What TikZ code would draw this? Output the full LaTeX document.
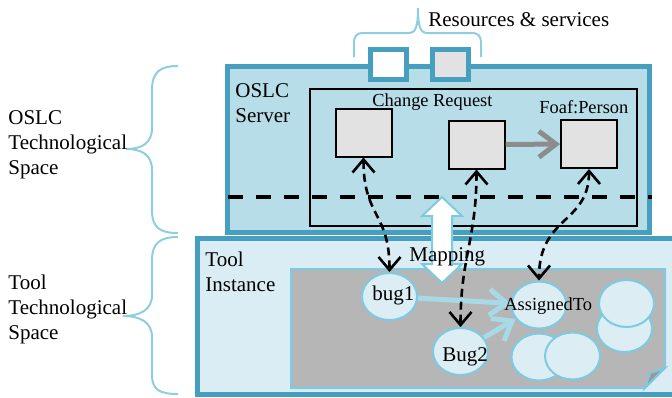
\documentclass[tikz,border=0pt]{standalone}
\usepackage{fontspec}
\setmainfont{Liberation Serif}
\usetikzlibrary{arrows.meta,shapes.geometric}
\definecolor{frameblue}{HTML}{469FBF}
\definecolor{srvfill}{HTML}{B7DEE8}
\definecolor{toolfill}{HTML}{DBEDF4}
\definecolor{braceblue}{HTML}{8FCDE0}
\definecolor{blobline}{HTML}{7DCAE2}
\definecolor{blobfill}{HTML}{DCEEF4}
\definecolor{areagray}{HTML}{B6B6B6}
\definecolor{foldgray}{HTML}{9A9A9A}
\definecolor{resgray}{HTML}{E2E2E2}
\definecolor{linkblue}{HTML}{A7D9E7}
\definecolor{relgray}{HTML}{8C8C8C}

\begin{document}
\begin{tikzpicture}[x=0.5pt,y=-0.5pt, every node/.style={font=\rmfamily\fontsize{10.5}{12.5}\selectfont, inner sep=0pt},
    txt/.style={anchor=north west, align=left},
    small/.style={txt, font=\rmfamily\fontsize{9.2}{11}\selectfont},
    frame/.style={draw=frameblue, line width=2.5pt},
    port/.style={draw=frameblue, line width=2.5pt, minimum width=18pt, minimum height=15pt},
    res/.style={draw, line width=1pt, fill=resgray, minimum width=28pt, minimum height=24pt},
    blob/.style={ellipse, draw=blobline, line width=1pt, fill=blobfill, minimum width=27.5pt, minimum height=23.5pt},
    curly/.style={draw=braceblue, line width=1pt},
    link/.style={dash pattern=on 4pt off 2.5pt, line width=1.3pt, {Straight Barb[length=6.5pt,width=11pt]}-{Straight Barb[length=6.5pt,width=11pt]}},
    flow/.style={line width=2.5pt, -{Straight Barb[length=8.5pt,width=13pt]}}]
    \clip (0,0) rectangle (672,397);
    % braces
    \draw[curly] (178,66) .. controls (160,66) and (152,72) .. (152,90) -- (152,128) .. controls (152,143) and (142,149) .. (126,149)
        .. controls (142,149) and (152,155) .. (152,170) -- (152,210) .. controls (152,228) and (160,233) .. (178,233);
    \draw[curly] (178,237) .. controls (160,237) and (152,243) .. (152,260) -- (152,295) .. controls (152,310) and (140,316) .. (123,316)
        .. controls (140,316) and (152,322) .. (152,337) -- (152,375) .. controls (152,390) and (160,394) .. (178,394);
    \draw[curly] (354,57) -- (354,44) .. controls (354,36) and (356,33) .. (364,33) -- (408,33) .. controls (415,33) and (418,29) .. (418,8)
        .. controls (418,29) and (421,33) .. (428,33) -- (471,33) .. controls (479,33) and (481,36) .. (481,44) -- (481,57);
    \node[txt] (oslcts) at (8,110) {OSLC\\Technological\\Space};
    \node[txt] (toolts) at (8,275) {Tool\\Technological\\Space};
    \node[txt] (ressrv) at (428,12) {Resources \& services};
    % boxes
    \node[frame, fill=srvfill, minimum width=211pt, minimum height=83pt] (oslc) at (438.5,149.25) {};
    \node[frame, fill=toolfill, minimum width=246.5pt, minimum height=78pt] (tool) at (443.5,316) {};
    \node[port, fill=white] (port1) at (388.5,64.5) {};
    \node[port, fill=resgray] (port2) at (450,64.5) {};
    \node[draw, line width=0.7pt, minimum width=163.5pt, minimum height=68.5pt] (crbox) at (473.5,157.5) {};
    \node[txt] (oslcsrv) at (235,83) {OSLC\\Server};
    \node[txt] (toolinst) at (205,252) {Tool\\Instance};
    \coordinate (cutL) at (228,197);
    \coordinate (cutR) at (652,197);
    \draw[line width=1.6pt, dash pattern=on 7.5pt off 6.5pt] (cutL) -- (cutR);
    % resources
    \node[res] (sq1) at (363.5,132.5) {};
    \node[res] (sq2) at (476.5,144.5) {};
    \node[res] (sq3) at (589,144) {};
    \node[small] (crlbl) at (372,93) {Change Request};
    \node[small] (foaf) at (539,100) {Foaf:Person};
    \draw[flow, relgray] (sq2) -- (sq3);
    % tool data
    \draw[draw=blobline, line width=1pt, fill=areagray] (291,269) -- (665,269) -- (665,368) -- (645,388) -- (291,388) -- cycle;
    \draw[draw=blobline, line width=1pt, fill=foldgray] (665,368) -- (650,373) -- (645,388) -- cycle;
    \node[blob] (bug1) at (389.5,296.5) {};
    \node[blob] (bug2) at (460.5,351.5) {};
    \node[blob] (asg) at (539,305) {};
    \node[blob] (e1) at (624.5,328.5) {};
    \node[blob] (e2) at (626.5,303.5) {};
    \node[blob] (e3) at (539,357) {};
    \node[blob] (e4) at (572.5,356) {};
    \draw[flow, linkblue] (bug1) -- (asg);
    \draw[flow, linkblue] (bug2) -- (asg);
    \node[txt] (bug1t) at (372,286) {bug1};
    \node[txt] (bug2t) at (442,347) {Bug2};
    \node[small] (asgt) at (504,297) {AssignedTo};
    % mapping
    \draw[draw=blobline, line width=1pt, fill=white] (442,197) -- (462,216) -- (452,216) -- (452,264) -- (462,264) -- (442,283)
        -- (422,264) -- (432,264) -- (432,216) -- (422,216) -- cycle;
    \node[txt] (map) at (409,247) {Mapping};
    \draw[link] (sq1.south) .. controls +(0,60) and +(0,-60) .. (bug1.north);
    \draw[link] (sq2.south) .. controls +(0,70) and +(0,-70) .. (bug2.north);
    \draw[link] (sq3.south) .. controls +(0,55) and +(0,-65) .. (asg.north);
\end{tikzpicture}
\end{document}
